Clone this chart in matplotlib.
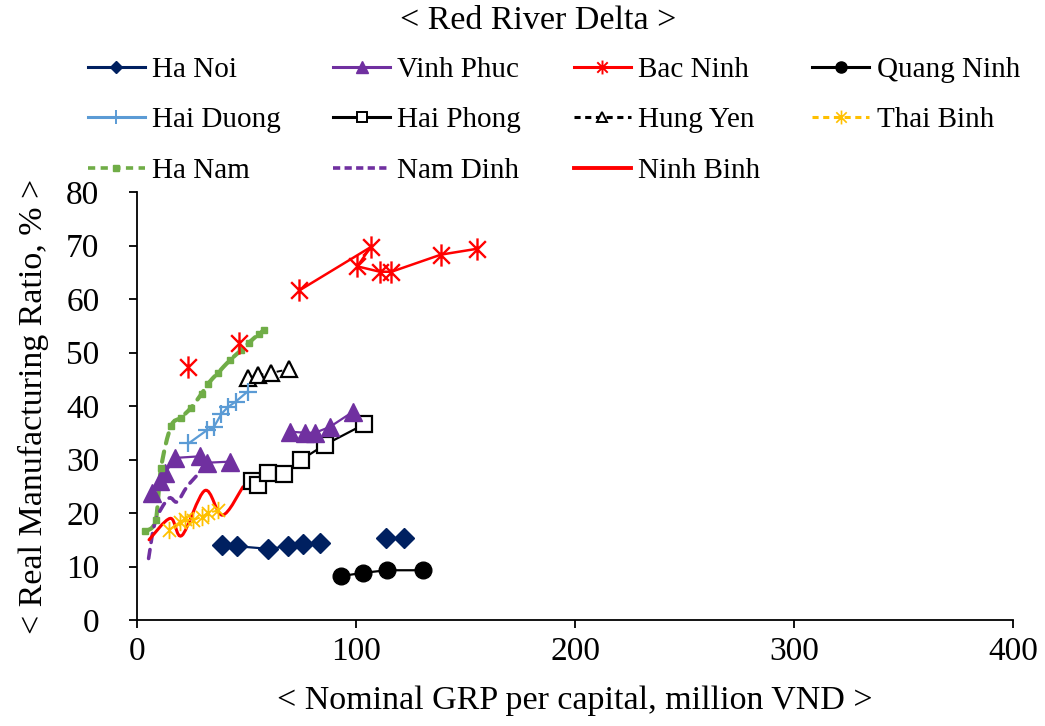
import numpy as np
import matplotlib
matplotlib.use("Agg")
import matplotlib.pyplot as plt
from matplotlib.path import Path
from matplotlib.patches import PathPatch
from matplotlib.lines import Line2D

plt.rcParams['font.family'] = ['Liberation Serif', 'DejaVu Serif']

nan = np.nan

# GRP per capita (million VND) and real manufacturing ratio (%) by province
ha_noi_x = [39, 45.5, 60, 69, 76, 83.5, nan, 113.5, 122]
ha_noi_y = [14.1, 13.8, 13.3, 13.8, 14.2, 14.4, nan, 15.3, 15.3]

vinh_phuc_x = [6.7, 10.5, 12.8, 17.4, 28.8, 31.8, 42.5, nan, 69.9, 76.9, 81.3, 88.1, 98.5]
vinh_phuc_y = [23.8, 25.9, 27.4, 30.3, 30.6, 29.4, 29.6, nan, 35.2, 35.0, 35.0, 36.1, 38.9]

bac_ninh_x = [23.2, nan, 46.6, nan, 74.1, 106.7, 100.6, 110.9, 116.2, 138.8, 155.4]
bac_ninh_y = [47.3, nan, 51.8, nan, 61.6, 69.7, 66.1, 65.1, 65.1, 68.3, 69.4]

quang_ninh_x = [93, 103, 114, 130.5]
quang_ninh_y = [8.2, 8.8, 9.3, 9.3]

hai_duong_x = [23.5, 32, 35, 38.5, 41.5, 45, 50.5]
hai_duong_y = [33.0, 35.5, 36.0, 38.5, 39.8, 40.8, 42.7]

hai_phong_x = [52.3, 55.4, 60, 67.1, 74.7, 86, 103.8]
hai_phong_y = [25.9, 25.3, 27.4, 27.2, 29.9, 32.8, 36.6]

hung_yen_x = [50.8, 55.4, 61.4, 69.6]
hung_yen_y = [45.2, 45.8, 46.2, 46.9]

thai_binh_x = [14.5, 19.5, 22, 25.5, 29.5, 32.5, 37]
thai_binh_y = [16.8, 18.3, 18.8, 18.6, 19.3, 20.0, 20.5]

ha_nam_x = [3.8, 8.5, 11, 15.5, 20, 24.5, 29.5, 32.5, 37, 42.5, 47.5, 51, 55.5, 58]
ha_nam_y = [16.6, 18.6, 28.5, 36.2, 37.8, 39.6, 42.3, 44.2, 46.2, 48.6, 50.4, 51.8, 53.4, 54.2]

nam_dinh_x = [5.3, 8.4, 14.4, 18.3, 22.8, 28.1, 31.1]
nam_dinh_y = [11.5, 18.4, 22.7, 22.1, 24.9, 27.4, 29.1]

ninh_binh_x = [5.5, 15.2, 20.5, 31, 39, 48.4]
ninh_binh_y = [15.0, 19.0, 15.8, 24.2, 19.6, 24.9]

NAVY = '#002060'
PURPLE = '#7030A0'
RED = '#FF0000'
BLUE = '#5B9BD5'
GOLD = '#FFC000'
GREEN = '#70AD47'

# Excel-style asterisk: vertical bar plus a cross
star = Path([(0, -1), (0, 1), (-0.75, -0.75), (0.75, 0.75), (-0.75, 0.75), (0.75, -0.75)],
            [Path.MOVETO, Path.LINETO] * 3)


def smooth_path(xs, ys, t=1 / 6):
    # cubic Bezier through the points, control points from neighbours
    p = np.column_stack([xs, ys])
    verts = [p[0]]
    codes = [Path.MOVETO]
    n = len(p)
    for i in range(n - 1):
        p0 = p[i - 1] if i > 0 else p[i]
        p3 = p[i + 2] if i + 2 < n else p[i + 1]
        c1 = p[i] + (p[i + 1] - p0) * t
        c2 = p[i + 1] - (p3 - p[i]) * t
        verts += [c1, c2, p[i + 1]]
        codes += [Path.CURVE4] * 3
    return Path(verts, codes)


fig = plt.figure(figsize=(10.45, 7.26), dpi=100)
ax = fig.add_axes([0.1311, 0.146, 0.8383, 0.5895])

ax.plot(ha_noi_x, ha_noi_y, color=NAVY, lw=1.6, marker='D', ms=10, mec=NAVY)
ax.plot(quang_ninh_x, quang_ninh_y, color='black', lw=1.6, marker='o', ms=12)
ax.plot(hai_phong_x, hai_phong_y, color='black', lw=1.6, marker='s', ms=11.5,
        mfc='white', mew=1.6)
ax.plot(hung_yen_x, hung_yen_y, color='black', lw=1.4, ls=(0, (3, 2)), marker='^',
        ms=12, mfc='white', mew=1.6)
ax.plot(vinh_phuc_x, vinh_phuc_y, color=PURPLE, lw=1.6, marker='^', ms=12.5)
ax.plot(hai_duong_x, hai_duong_y, color=BLUE, lw=1.6, marker='+', ms=13.5, mew=1.6)
ax.plot(thai_binh_x, thai_binh_y, color=GOLD, lw=1.4, ls=(0, (3, 2)), marker=star,
        ms=12.5, mew=1.3)

# smoothed series
ax.add_patch(PathPatch(smooth_path(ha_nam_x, ha_nam_y), fill=False, ec=GREEN, lw=3,
                       ls=(0, (2.5, 2)), capstyle='round'))
ax.plot(ha_nam_x, ha_nam_y, ls='none', marker='s', ms=5, color=GREEN)
ax.add_patch(PathPatch(smooth_path(nam_dinh_x, nam_dinh_y), fill=False, ec=PURPLE, lw=2.6,
                       ls=(0, (2.5, 2)), capstyle='round'))
ax.add_patch(PathPatch(smooth_path(ninh_binh_x, ninh_binh_y), fill=False, ec=RED, lw=2.2,
                       capstyle='round'))

ax.plot(bac_ninh_x, bac_ninh_y, color=RED, lw=1.8, marker=star, ms=16, mew=1.7)

ax.set_xlim(0, 400)
ax.set_ylim(0, 80)
ax.set_xticks(np.arange(0, 401, 100))
ax.set_yticks(np.arange(0, 81, 10))
for s in ['top', 'right']:
    ax.spines[s].set_visible(False)
for s in ['left', 'bottom']:
    ax.spines[s].set_linewidth(1.3)
ax.tick_params(axis='both', direction='out', length=6, width=1.3, labelsize=24)
ax.tick_params(axis='y', pad=21)
ax.tick_params(axis='x', pad=6)
ax.set_xlabel('< Nominal GRP per capital, million VND >', fontsize=24.5, labelpad=13)
ax.set_ylabel('< Real Manufacturing Ratio, % >', fontsize=24.5, labelpad=12)

handles = [
    Line2D([], [], color=NAVY, lw=2.2, marker='D', ms=6),
    Line2D([], [], color=PURPLE, lw=2.2, marker='^', ms=8),
    Line2D([], [], color=RED, lw=2.2, marker=star, ms=10, mew=1.4),
    Line2D([], [], color='black', lw=2.2, marker='o', ms=8),
    Line2D([], [], color=BLUE, lw=2.2, marker='+', ms=10, mew=1.4),
    Line2D([], [], color='black', lw=2.2, marker='s', ms=7, mfc='white', mew=1.4),
    Line2D([], [], color='black', lw=2.2, ls=(0, (2, 1.5)), marker='^', ms=7, mfc='white', mew=1.4),
    Line2D([], [], color=GOLD, lw=2.2, ls=(0, (2, 1.5)), marker=star, ms=10, mew=1.2),
    Line2D([], [], color=GREEN, lw=2.6, ls=(0, (2, 1.5)), marker='s', ms=5),
    Line2D([], [], color=PURPLE, lw=2.6, ls=(0, (2, 1.2))),
    Line2D([], [], color=RED, lw=2.8),
]
labels = ['Ha Noi', 'Vinh Phuc', 'Bac Ninh', 'Quang Ninh', 'Hai Duong', 'Hai Phong',
          'Hung Yen', 'Thai Binh', 'Ha Nam', 'Nam Dinh', 'Ninh Binh']
# legend fills column by column, so reorder to read across rows
order = [0, 4, 8, 1, 5, 9, 2, 6, 10, 3, 7]
fig.text(0.515, 0.971, '< Red River Delta >', fontsize=24.5, ha='center', va='center')
leg = fig.legend([handles[i] for i in order], [labels[i] for i in order],
                 loc='center', bbox_to_anchor=(0.53, 0.8345), ncol=4,
                 frameon=False, fontsize=21, handlelength=1.95, handletextpad=0.25,
                 columnspacing=1.8, labelspacing=0.83)

fig.savefig('out.png', dpi=100)
